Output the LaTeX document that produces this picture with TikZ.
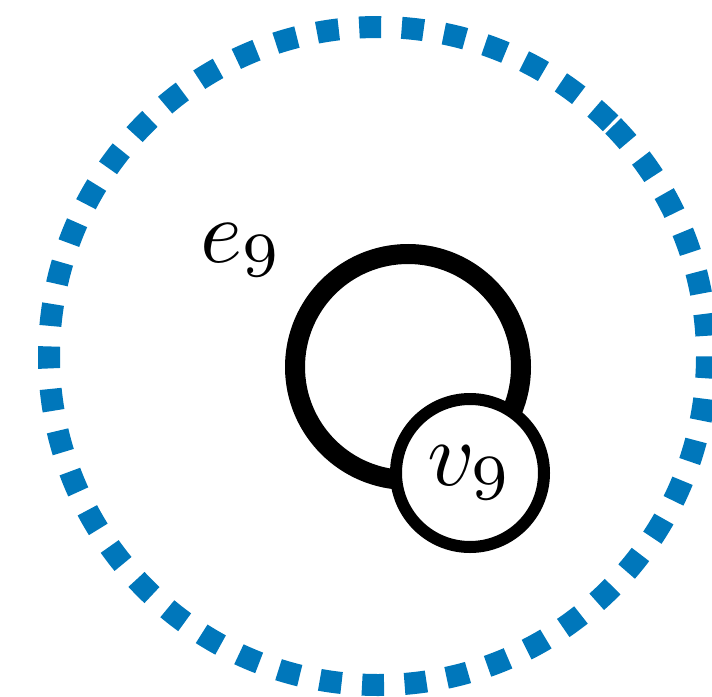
\documentclass[tikz,border=0pt]{standalone}
\usetikzlibrary{calc}
\definecolor{dotblue}{HTML}{0077BB}
\tikzset{
  boundary/.style={draw=dotblue, line width=22pt, line cap=butt, dash pattern=on 22pt off 20.54pt},
  loopedge/.style={draw=black, line width=20pt},
  vertex/.style={circle, draw=black, fill=white, line width=12pt, minimum size=148pt, inner sep=0pt},
  elabel/.style={inner sep=0pt}
}
\begin{document}
\begin{tikzpicture}[x=1pt, y=-1pt]
\useasboundingbox (0,0) rectangle (712,696);
\coordinate (c) at (378,356);
\draw[boundary] ($(c)+(-45:329)$) arc[start angle=-45, end angle=-405, radius=329];
\coordinate (vpos) at (470,473);
\coordinate (lc) at (408,367);
\draw[loopedge] (lc) circle[radius=113];
\node[vertex] (v9) at (vpos) {\scalebox{9.2}{$v_9$}};
\node[elabel] (e9) at (242,250) {\scalebox{9}{$e_9$}};
\end{tikzpicture}
\end{document}
